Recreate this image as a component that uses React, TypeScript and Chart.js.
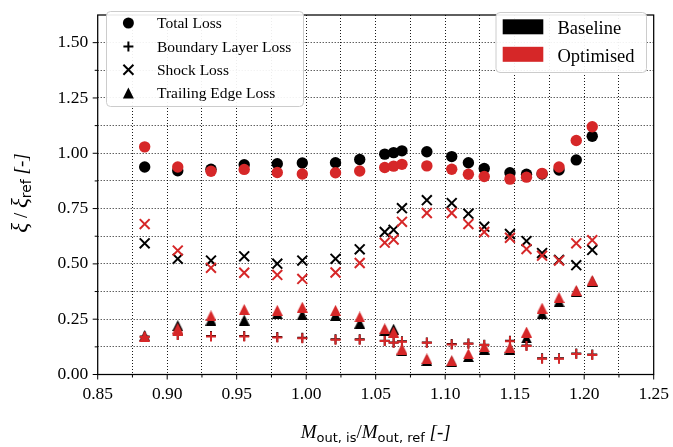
import React, { useEffect, useRef } from 'react';
import { Chart, registerables } from 'chart.js';

Chart.register(...registerables);

// Isentropic outlet Mach number ratio for each operating point
const MACH = [
  0.8838, 0.9076, 0.9315, 0.9554, 0.9792, 0.9972, 1.0211, 1.0385, 1.0565, 1.0629, 1.0689,
  1.0868, 1.1047, 1.1167, 1.1281, 1.1466, 1.1585, 1.1697, 1.1819, 1.1943, 1.2058,
];

// Normalised loss coefficients, baseline blade
const TOTAL_BASELINE = [
  0.938, 0.921, 0.928, 0.948, 0.953, 0.956, 0.957, 0.972, 0.996, 1.003, 1.011,
  1.007, 0.985, 0.957, 0.931, 0.912, 0.905, 0.906, 0.924, 0.97, 1.077,
];
const BL_BASELINE = [
  0.172, 0.18, 0.174, 0.174, 0.169, 0.166, 0.159, 0.159, 0.153, 0.145, 0.15,
  0.145, 0.138, 0.14, 0.134, 0.152, 0.131, 0.073, 0.073, 0.095, 0.09,
];
const SHOCK_BASELINE = [
  0.593, 0.523, 0.515, 0.534, 0.501, 0.515, 0.523, 0.566, 0.644, 0.654, 0.752,
  0.788, 0.775, 0.727, 0.668, 0.635, 0.603, 0.549, 0.518, 0.494, 0.563,
];
const TE_BASELINE = [
  0.175, 0.221, 0.246, 0.246, 0.275, 0.27, 0.268, 0.232, 0.2, 0.205, 0.107,
  0.063, 0.058, 0.081, 0.115, 0.115, 0.165, 0.275, 0.329, 0.375, 0.422,
];

// Normalised loss coefficients, optimised blade
const TOTAL_OPTIMISED = [
  1.029, 0.938, 0.919, 0.927, 0.913, 0.906, 0.912, 0.92, 0.936, 0.942, 0.95,
  0.943, 0.928, 0.905, 0.895, 0.883, 0.892, 0.909, 0.938, 1.058, 1.12,
];
const BL_OPTIMISED = [
  0.17, 0.178, 0.172, 0.172, 0.167, 0.164, 0.157, 0.157, 0.151, 0.143, 0.148,
  0.143, 0.136, 0.139, 0.133, 0.15, 0.129, 0.071, 0.071, 0.093, 0.088,
];
const SHOCK_OPTIMISED = [
  0.68, 0.56, 0.482, 0.46, 0.45, 0.432, 0.461, 0.504, 0.596, 0.61, 0.69,
  0.73, 0.73, 0.68, 0.644, 0.618, 0.567, 0.537, 0.515, 0.593, 0.607,
];
const TE_OPTIMISED = [
  0.172, 0.209, 0.265, 0.294, 0.29, 0.304, 0.29, 0.26, 0.207, 0.192, 0.115,
  0.071, 0.062, 0.093, 0.125, 0.122, 0.192, 0.3, 0.348, 0.38, 0.425,
];

const X_TICKS = [0.85, 0.9, 0.95, 1.0, 1.05, 1.1, 1.15, 1.2, 1.25];
const X_TICK_LABELS = ['0.85', '0.90', '0.95', '1.00', '1.05', '1.10', '1.15', '1.20', '1.25'];
const X_MINOR_TICKS = [0.875, 0.925, 0.975, 1.025, 1.075, 1.125, 1.175, 1.225];
const Y_TICKS = [0, 0.25, 0.5, 0.75, 1.0, 1.25, 1.5];
const Y_TICK_LABELS = ['0.00', '0.25', '0.50', '0.75', '1.00', '1.25', '1.50'];
const Y_MINOR_TICKS = [0.125, 0.375, 0.625, 0.875, 1.125, 1.375];

const LOSS_LABELS = ['Total Loss', 'Boundary Layer Loss', 'Shock Loss', 'Trailing Edge Loss'];
const CASE_LABELS = ['Baseline', 'Optimised'];

const BLACK = '#000000';
const RED = '#d62728';
const SERIF = "'Liberation Serif', 'Times New Roman', serif";
const SANS = "'DejaVu Sans', sans-serif";

function makeTriangle(color: string, size = 11): HTMLCanvasElement {
  const c = document.createElement('canvas');
  c.width = size;
  c.height = size;
  const g = c.getContext('2d')!;
  g.fillStyle = color;
  g.beginPath();
  g.moveTo(size / 2, 0);
  g.lineTo(size, size);
  g.lineTo(0, size);
  g.closePath();
  g.fill();
  return c;
}

type Seg = { text: string; font: string; dy: number };

function drawRich(ctx: CanvasRenderingContext2D, segs: Seg[], cx: number, baseY: number) {
  let total = 0;
  const widths = segs.map((s) => {
    ctx.font = s.font;
    const w = ctx.measureText(s.text).width;
    total += w;
    return w;
  });
  let x = cx - total / 2;
  ctx.textAlign = 'left';
  ctx.textBaseline = 'alphabetic';
  segs.forEach((s, i) => {
    ctx.font = s.font;
    ctx.fillText(s.text, x, baseY + s.dy);
    x += widths[i];
  });
}

function snap(v: number) {
  return Math.round(v - 0.5) + 0.5;
}

const decorPlugin = {
  id: 'decor',
  beforeDatasetsDraw(chart: any) {
    const { ctx, chartArea: a, scales } = chart;
    const xs = scales.x;
    const ys = scales.y;
    ctx.save();
    ctx.strokeStyle = 'rgba(0,0,0,0.9)';
    ctx.lineWidth = 1;
    ctx.setLineDash([1, 2]);
    [...X_TICKS, ...X_MINOR_TICKS].forEach((v) => {
      const p = xs.getPixelForValue(v);
      if (p <= a.left + 1 || p >= a.right - 1) return;
      ctx.beginPath();
      ctx.moveTo(snap(p), a.top);
      ctx.lineTo(snap(p), a.bottom);
      ctx.stroke();
    });
    [...Y_TICKS, ...Y_MINOR_TICKS].forEach((v) => {
      const p = ys.getPixelForValue(v);
      if (p <= a.top + 1 || p >= a.bottom - 1) return;
      ctx.beginPath();
      ctx.moveTo(a.left, snap(p));
      ctx.lineTo(a.right, snap(p));
      ctx.stroke();
    });
    ctx.restore();
  },
  afterDraw(chart: any) {
    const { ctx, chartArea: a, scales } = chart;
    const xs = scales.x;
    const ys = scales.y;
    ctx.save();

    // axes frame
    ctx.strokeStyle = BLACK;
    ctx.lineWidth = 1.25;
    ctx.setLineDash([]);
    ctx.strokeRect(a.left, a.top, a.right - a.left, a.bottom - a.top);

    // tick marks
    ctx.lineWidth = 1;
    const tickX = (v: number, len: number) => {
      const p = xs.getPixelForValue(v);
      ctx.beginPath();
      ctx.moveTo(p, a.bottom);
      ctx.lineTo(p, a.bottom + len);
      ctx.stroke();
    };
    const tickY = (v: number, len: number) => {
      const p = ys.getPixelForValue(v);
      ctx.beginPath();
      ctx.moveTo(a.left, p);
      ctx.lineTo(a.left - len, p);
      ctx.stroke();
    };
    X_TICKS.forEach((v) => tickX(v, 5));
    X_MINOR_TICKS.forEach((v) => tickX(v, 3));
    Y_TICKS.forEach((v) => tickY(v, 5));
    Y_MINOR_TICKS.forEach((v) => tickY(v, 3));

    // loss-type legend
    const drawBox = (x0: number, y0: number, x1: number, y1: number) => {
      ctx.beginPath();
      ctx.roundRect(x0, y0, x1 - x0, y1 - y0, 4);
      ctx.fillStyle = 'rgba(255,255,255,0.92)';
      ctx.fill();
      ctx.strokeStyle = '#cccccc';
      ctx.lineWidth = 1;
      ctx.stroke();
    };
    drawBox(106.5, 11.5, 303.5, 106.5);
    const mx = 128.4;
    const rows = [23, 46.5, 69.8, 93];
    ctx.fillStyle = BLACK;
    ctx.strokeStyle = BLACK;
    ctx.beginPath();
    ctx.arc(mx, rows[0], 5.5, 0, Math.PI * 2);
    ctx.fill();
    ctx.lineWidth = 2;
    ctx.beginPath();
    ctx.moveTo(mx - 5, rows[1]);
    ctx.lineTo(mx + 5, rows[1]);
    ctx.moveTo(mx, rows[1] - 5);
    ctx.lineTo(mx, rows[1] + 5);
    ctx.stroke();
    ctx.beginPath();
    ctx.moveTo(mx - 5, rows[2] - 5);
    ctx.lineTo(mx + 5, rows[2] + 5);
    ctx.moveTo(mx + 5, rows[2] - 5);
    ctx.lineTo(mx - 5, rows[2] + 5);
    ctx.stroke();
    ctx.beginPath();
    ctx.moveTo(mx, rows[3] - 5.5);
    ctx.lineTo(mx + 5.5, rows[3] + 5.5);
    ctx.lineTo(mx - 5.5, rows[3] + 5.5);
    ctx.closePath();
    ctx.fill();
    ctx.font = `15.5px ${SERIF}`;
    ctx.textAlign = 'left';
    ctx.textBaseline = 'alphabetic';
    LOSS_LABELS.forEach((t, i) => ctx.fillText(t, 157, rows[i] + 5.3));

    // case legend
    drawBox(496, 12.5, 646.5, 72.5);
    ctx.fillStyle = BLACK;
    ctx.fillRect(502.7, 19.3, 40.6, 15);
    ctx.fillStyle = RED;
    ctx.fillRect(502.7, 46.8, 40.6, 15);
    ctx.fillStyle = BLACK;
    ctx.font = `18.5px ${SERIF}`;
    ctx.fillText(CASE_LABELS[0], 557.5, 34.3);
    ctx.fillText(CASE_LABELS[1], 557.5, 61.8);

    // axis titles
    const it = `italic 19px ${SERIF}`;
    const rm = `19px ${SERIF}`;
    const sub = `13px ${SANS}`;
    ctx.fillStyle = BLACK;
    drawRich(
      ctx,
      [
        { text: 'M', font: it, dy: 0 },
        { text: 'out, is', font: sub, dy: 3.5 },
        { text: '/', font: rm, dy: 0 },
        { text: 'M', font: it, dy: 0 },
        { text: 'out, ref', font: sub, dy: 3.5 },
        { text: ' [-]', font: it, dy: 0 },
      ],
      (a.left + a.right) / 2,
      438
    );
    const xi = `italic 23px ${SERIF}`;
    ctx.save();
    ctx.translate(27, 193);
    ctx.rotate(-Math.PI / 2);
    drawRich(
      ctx,
      [
        { text: 'ξ', font: xi, dy: 0 },
        { text: ' / ', font: rm, dy: 0 },
        { text: 'ξ', font: xi, dy: 0 },
        { text: 'ref', font: `14px ${SANS}`, dy: 4 },
        { text: ' [-]', font: it, dy: 0 },
      ],
      0,
      0
    );
    ctx.restore();

    ctx.restore();
  },
};

function pts(ys: number[]) {
  return MACH.map((x, i) => ({ x, y: ys[i] }));
}

export default function App() {
  const ref = useRef<HTMLCanvasElement | null>(null);

  useEffect(() => {
    if (!ref.current) return;
    const triBlack = makeTriangle(BLACK);
    const triRed = makeTriangle(RED);

    const series = (data: number[], color: string, style: any, radius: number, order: number) => ({
      data: pts(data),
      showLine: false,
      pointStyle: style,
      pointRadius: radius,
      pointBackgroundColor: color,
      pointBorderColor: color,
      pointBorderWidth: style === 'cross' || style === 'crossRot' ? 2 : 0,
      order,
    });

    const chart = new Chart(ref.current, {
      type: 'scatter',
      data: {
        datasets: [
          series(TOTAL_OPTIMISED, RED, 'circle', 5.7, 0),
          series(BL_OPTIMISED, RED, 'cross', 5, 0),
          series(SHOCK_OPTIMISED, RED, 'crossRot', 7, 0),
          series(TE_OPTIMISED, RED, triRed, 5.5, 0),
          series(TOTAL_BASELINE, BLACK, 'circle', 5.7, 1),
          series(BL_BASELINE, BLACK, 'cross', 5, 1),
          series(SHOCK_BASELINE, BLACK, 'crossRot', 7, 1),
          series(TE_BASELINE, BLACK, triBlack, 5.5, 1),
        ] as any,
      },
      options: {
        responsive: false,
        devicePixelRatio: 1,
        animation: false,
        events: [],
        layout: { padding: { top: 3, right: 15.3, left: 0, bottom: 0 } },
        plugins: { legend: { display: false }, tooltip: { enabled: false } },
        scales: {
          x: {
            type: 'linear',
            min: 0.85,
            max: 1.25,
            afterFit: (s: any) => {
              s.height = 72.5;
            },
            afterBuildTicks: (s: any) => {
              s.ticks = X_TICKS.map((v) => ({ value: v }));
            },
            grid: { display: false, drawTicks: true, tickLength: 5 },
            border: { display: false },
            ticks: {
              autoSkip: false,
              maxRotation: 0,
              padding: 4,
              color: BLACK,
              font: { family: SERIF, size: 17.5 },
              callback: (_v: any, i: number) => X_TICK_LABELS[i],
            },
          },
          y: {
            type: 'linear',
            min: 0,
            max: 1.625,
            afterFit: (s: any) => {
              s.width = 97.7;
            },
            afterBuildTicks: (s: any) => {
              s.ticks = Y_TICKS.map((v) => ({ value: v }));
            },
            grid: { display: false, drawTicks: true, tickLength: 5 },
            border: { display: false },
            ticks: {
              autoSkip: false,
              padding: 4.5,
              color: BLACK,
              font: { family: SERIF, size: 17.5 },
              callback: (_v: any, i: number) => Y_TICK_LABELS[i],
            },
          },
        },
      },
      plugins: [decorPlugin],
    });
    return () => chart.destroy();
  }, []);

  return (
    <div style={{ position: 'absolute', left: 0, top: 0, width: 673, height: 447, background: '#fff' }}>
      <canvas ref={ref} width={673} height={447} style={{ display: 'block' }} />
    </div>
  );
}
